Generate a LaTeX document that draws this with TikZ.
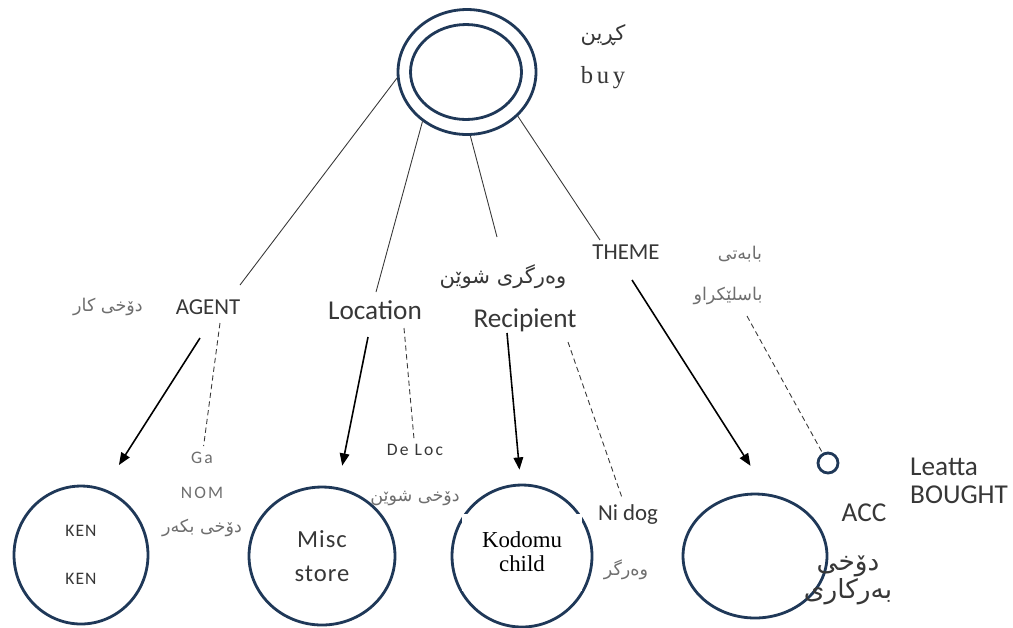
\documentclass[tikz,border=0pt]{standalone}
\usepackage{fontspec}
\setmainfont{Carlito}
\newfontfamily\kufont[Script=Arabic]{DejaVu Sans}
\newfontfamily\timesfont{Liberation Serif}
\TeXXeTstate=1
\usetikzlibrary{shapes.geometric,arrows.meta}

\definecolor{ringblue}{RGB}{31,56,88}
\definecolor{inkgray}{RGB}{55,55,55}
\definecolor{softgray}{RGB}{110,110,110}

\tikzset{
	ring/.style={draw=ringblue, line width=1.6pt, ellipse, inner sep=0pt},
	role/.style={text=inkgray, font=\fontsize{13}{15}\selectfont},
	bigrole/.style={text=inkgray, font=\fontsize{15.5}{16}\selectfont},
	casetag/.style={text=softgray, font=\fontsize{10}{12}\selectfont\addfontfeature{LetterSpace=12}},
	kurd/.style={text=softgray, font=\kufont\fontsize{10}{12}\selectfont},
	link/.style={draw=inkgray, line width=0.5pt},
	arr/.style={draw=black, line width=0.9pt, -{Triangle[length=7pt,width=5.5pt]}},
	dashlink/.style={draw=inkgray, line width=0.5pt, dash pattern=on 3pt off 2pt}
}

\begin{document}
\begin{tikzpicture}[x=0.02cm, y=-0.02cm]
	
	\useasboundingbox (0,0) rectangle (1013,627);
	
	\node [ring, minimum width=2.76cm, minimum height=2.5cm] (evt) at (467,72) {};
	\node [ring, minimum width=2.22cm, minimum height=1.9cm] (evtin) at (466,72) {};
	\node [kurd, text=inkgray, font=\kufont\fontsize{12}{14}\selectfont] (kurin) at (603,35) {\beginR کڕین\endR};
	\node [text=inkgray, font=\timesfont\fontsize{14}{16}\selectfont\addfontfeature{LetterSpace=15}] (buy) at (603,78) {buy};
	
	\node [role] (agent) at (208,307) {AGENT};
	\node [kurd] (agentku) at (108,307) {\beginR دۆخی کار\endR};
	
	\node [bigrole] (loc) at (375,310) {Location};
	
	\node [kurd, text=inkgray, font=\kufont\fontsize{12}{14}\selectfont] (recku) at (503,277) {\beginR وەرگری شوێن\endR};
	\node [bigrole] (rec) at (525,320) {Recipient};
	
	\node [role] (theme) at (626,252) {THEME};
	\node [kurd] (themeku1) at (740,254) {\beginR بابەتی\endR};
	\node [kurd] (themeku2) at (728,296) {\beginR باسلێکراو\endR};
	
	% the four participants
	\node [ring, minimum width=2.68cm, minimum height=2.76cm, align=center, text=inkgray, font=\fontsize{10}{12}\selectfont\addfontfeature{LetterSpace=6}] (ken) at (81,555) {KEN\\[15pt]KEN};
	\node [ring, minimum width=2.92cm, minimum height=2.76cm, align=center, text=inkgray, font=\fontsize{14}{19}\selectfont\addfontfeature{LetterSpace=4}] (misc) at (322,556) {Misc\\store};
	\node [ring, minimum width=2.8cm, minimum height=2.84cm] (kodomu) at (522,556) {};
	\node [fill=white, minimum width=2.42cm, minimum height=1.54cm, align=center, font=\timesfont\fontsize{13}{13.6}\selectfont] (kodomutxt) at (522,552) {Kodomu\\child};
	\node [ring, minimum width=2.88cm, minimum height=2.48cm] (obj) at (755,556) {};
	\node [ring, circle, minimum size=0.4cm] (dot) at (828,463) {};
	
	\node [casetag] (ga) at (202,458) {Ga};
	\node [casetag] (nom) at (202,493) {NOM};
	\node [kurd] (nomku) at (202,528) {\beginR دۆخی بکەر\endR};
	
	\node [casetag, text=inkgray] (deloc) at (415,450) {De Loc};
	\node [kurd] (delocku) at (415,498) {\beginR دۆخی شوێن\endR};
	
	\node [role] (nidog) at (628,515) {Ni dog};
	\node [kurd] (nidogku) at (626,570) {\beginR وەرگر\endR};
	
	\node [bigrole] (acc) at (864,513) {ACC};
	\node [kurd, text=inkgray, font=\kufont\fontsize{15}{16}\selectfont, align=center] (accku) at (848,580) {\beginR دۆخی\endR\\\beginR بەرکاری\endR};
	\node [bigrole, align=left, anchor=west] (leatta) at (904,481) {Leatta\\BOUGHT};
	
	
	\draw [link] (evt.185) -- ([shift={(32,-22)}]agent.center);
	\draw [link] (evt.228) -- ([shift={(1,-18)}]loc.center);
	\draw [link] (evt.273) -- ([shift={(-6,-40)}]recku.center);
	\draw [link] (evt.319) -- ([shift={(-26,-12)}]theme.center);
	
	\draw [arr, shorten >=0.56cm] ([shift={(-8,31)}]agent.center) -- (ken.71);
	\draw [arr, shorten >=0.44cm] ([shift={(-7,27)}]loc.center) -- (misc.77);
	\draw [arr, shorten >=0.28cm] ([shift={(-18,13)}]rec.center) -- (kodomu.91);
	\draw [arr, shorten >=0.66cm] ([shift={(6,28)}]theme.center) -- (obj.78);
	
	\draw [dashlink] ([shift={(12,16)}]agent.center) -- (ga);
	\draw [dashlink] ([shift={(29,18)}]loc.center) -- (deloc);
	\draw [dashlink] ([shift={(43,22)}]rec.center) -- (nidog);
	\draw [dashlink] ([shift={(19,20)}]themeku2.center) -- (dot);
	
\end{tikzpicture}
\end{document}
